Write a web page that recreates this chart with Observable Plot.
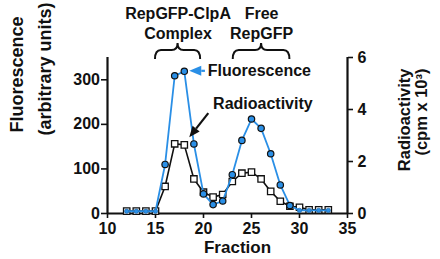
<!DOCTYPE html>
<html>
<head>
<meta charset="utf-8">
<script src="https://cdn.jsdelivr.net/npm/d3@7"></script>
<script src="https://cdn.jsdelivr.net/npm/@observablehq/plot@0.6"></script>
<style>
  body { margin: 0; background: #fff; }
  #chart svg { display: block; }
</style>
</head>
<body>
<div id="chart"></div>
<script>
// Gel-filtration profile: GFP fluorescence and radioactivity per fraction
const fractions     = [12, 13, 14, 15, 16, 17, 18, 19, 20, 21, 22, 23, 24, 25, 26, 27, 28, 29, 30, 31, 32, 33];
const fluorescence  = [5, 5, 5, 5, 110, 309, 319, 156, 44, 20, 28, 87, 164, 212, 191, 134, 64, 18, 7, 7, 7, 7];
// radioactivity in cpm x 10^3
const radioactivity = [0.09, 0.09, 0.09, 0.09, 1.04, 2.68, 2.64, 1.33, 0.82, 0.63, 0.73, 1.23, 1.55, 1.59, 1.33, 0.85, 0.47, 0.28, 0.24, 0.14, 0.14, 0.14];

const xTicks     = [10, 15, 20, 25, 30, 35];
const leftTicks  = [0, 100, 200, 300];
const rightTicks = [0, 2, 4, 6];

// bracketed fraction ranges above the peaks
const peaks = [
  {label: "RepGFP-ClpA\nComplex", from: 15, to: 19.7},
  {label: "Free\nRepGFP", from: 23.1, to: 29}
];

const blue = "#2a8fe6";
const ink = "#111";
const yMax = 350;           // top of the fluorescence axis
const rMax = 6;             // top of the radioactivity axis
const toLeft = v => v * yMax / rMax;

const fluorData = fractions.map((f, i) => ({fraction: f, value: fluorescence[i]}));
const radioData = fractions.map((f, i) => ({fraction: f, value: toLeft(radioactivity[i])}));

// series call-outs: label position plus arrow tail -> tip (data units)
const notes = [
  {label: "Fluorescence", x: 20.45, y: 321, color: blue, x1: 20.2, y1: 319, x2: 18.57, y2: 319, head: 12, width: 10, sw: 2.2},
  {label: "Radioactivity", x: 21.0, y: 246, color: ink, x1: 20.55, y1: 224, x2: 18.57, y2: 170, head: 11, width: 9, sw: 2.2}
];

// curly braces over the peak ranges
function braces(index, scales, values, dimensions) {
  const g = d3.create("svg:g").attr("fill", "none").attr("stroke", ink).attr("stroke-width", 2);
  const top = dimensions.marginTop;
  const yb = top - 7, yt = top + 2, yp = top - 14;
  for (const p of peaks) {
    const x0 = scales.x(p.from), x1 = scales.x(p.to), m = (x0 + x1) / 2;
    g.append("path").attr("d",
      `M${x0},${yt}Q${x0},${yb} ${x0 + 6},${yb}L${m - 6},${yb}Q${m},${yb} ${m},${yp}` +
      `Q${m},${yb} ${m + 6},${yb}L${x1 - 6},${yb}Q${x1},${yb} ${x1},${yt}`);
  }
  return g.node();
}

// arrows with filled heads for the call-outs
function arrows(index, scales) {
  const g = d3.create("svg:g");
  for (const a of notes) {
    const x1 = scales.x(a.x1), y1 = scales.y(a.y1), x2 = scales.x(a.x2), y2 = scales.y(a.y2);
    const ang = Math.atan2(y2 - y1, x2 - x1);
    const bx = x2 - a.head * Math.cos(ang), by = y2 - a.head * Math.sin(ang);
    const nx = Math.sin(ang) * a.width / 2, ny = Math.cos(ang) * a.width / 2;
    g.append("line").attr("x1", x1).attr("y1", y1).attr("x2", bx).attr("y2", by)
      .attr("stroke", a.color).attr("stroke-width", a.sw);
    g.append("path").attr("d", `M${x2},${y2}L${bx + nx},${by - ny}L${bx - nx},${by + ny}Z`)
      .attr("fill", a.color);
  }
  return g.node();
}

const font = "'Liberation Sans', Arial, Helvetica, sans-serif";

const chart = Plot.plot({
  width: 440,
  height: 259,
  marginLeft: 107,
  marginRight: 93,
  marginTop: 57,
  marginBottom: 46,
  style: {fontFamily: font, fontWeight: "bold", color: ink, background: "#fff", overflow: "visible"},
  x: {domain: [10, 35]},
  y: {domain: [0, yMax]},
  marks: [
    // axes
    Plot.axisX({ticks: xTicks, tickSize: 5, tickPadding: 4, fontSize: 16, fontWeight: "bold", strokeWidth: 1.6, label: null}),
    Plot.axisY({anchor: "left", ticks: leftTicks, tickSize: 6, tickPadding: 1.5, fontSize: 16, fontWeight: "bold", strokeWidth: 1.6, label: null}),
    Plot.axisY({anchor: "right", ticks: rightTicks.map(toLeft), tickFormat: v => String(Math.round(v * rMax / yMax)),
      tickSize: 5, tickPadding: 5, fontSize: 16, fontWeight: "bold", strokeWidth: 1.6, label: null}),
    Plot.ruleY([0], {stroke: ink, strokeWidth: 2.2}),
    Plot.ruleX([10, 35], {y1: 0, y2: yMax, stroke: ink, strokeWidth: 2.2}),

    // radioactivity (right axis)
    Plot.line(radioData, {x: "fraction", y: "value", stroke: ink, strokeWidth: 1.6}),
    Plot.dot(radioData, {x: "fraction", y: "value", symbol: "square", r: 3.6, fill: "white", stroke: ink, strokeWidth: 1.3}),

    // fluorescence (left axis)
    Plot.line(fluorData, {x: "fraction", y: "value", stroke: blue, strokeWidth: 1.8}),
    Plot.dot(fluorData, {filter: d => d.value >= 10, x: "fraction", y: "value", r: 3.2, fill: blue, stroke: ink, strokeWidth: 1.2}),
    Plot.dot(fluorData, {filter: d => d.value < 10, x: "fraction", y: "value", r: 2.2, fill: blue, stroke: "#1b5fa0", strokeWidth: 0.6}),

    // axis titles
    Plot.text(["Fraction"], {frameAnchor: "bottom", lineAnchor: "bottom", dx: 10, dy: 39.5, fontSize: 17, fontWeight: "bold"}),
    Plot.text(["Fluorescence"], {frameAnchor: "left", rotate: -90, dx: -90.5, dy: -3, fontSize: 18, fontWeight: "bold"}),
    Plot.text(["(arbitrary units)"], {frameAnchor: "left", rotate: -90, dx: -62.5, dy: 0, fontSize: 18, fontWeight: "bold"}),
    Plot.text(["Radioactivity"], {frameAnchor: "right", rotate: -90, textAnchor: "end", dx: 57, dy: -67, fontSize: 16.5, fontWeight: "bold"}),
    Plot.text(["(cpm x 10³)"], {frameAnchor: "right", rotate: -90, textAnchor: "end", dx: 74, dy: -67, fontSize: 16.5, fontWeight: "bold"}),

    // peak brackets and labels
    braces,
    Plot.text(peaks, {x: d => (d.from + d.to) / 2, text: "label", frameAnchor: "top", lineAnchor: "bottom", dy: -19, lineHeight: 1.2, fontSize: 16, fontWeight: "bold"}),

    // call-outs
    arrows,
    Plot.text(notes, {x: "x", y: "y", text: "label", textAnchor: "start", fontSize: 16, fontWeight: "bold", fill: ink})
  ]
});

document.getElementById("chart").append(chart);
</script>
</body>
</html>
